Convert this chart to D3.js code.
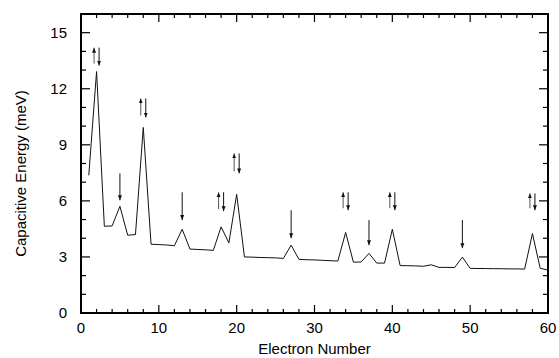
<!DOCTYPE html>
<html>
<head>
<meta charset="utf-8">
<script src="https://cdn.jsdelivr.net/npm/d3@7"></script>
<style>
  html, body { margin: 0; padding: 0; background: #fff; }
  svg { display: block; }
  text { font-family: "Liberation Sans", Arial, Helvetica, sans-serif; fill: #000; }
</style>
</head>
<body>
<svg id="chart" width="559" height="358"></svg>
<script>
// electron number N and capacitive energy (meV)
const electronNumber = d3.range(1, 61)
const energy = [
  7.37, 12.92, 4.64, 4.66, 5.71, 4.16, 4.2, 9.93, 3.68, 3.66,
  3.64, 3.6, 4.48, 3.42, 3.4, 3.38, 3.35, 4.61, 3.75, 6.35,
  3.0, 2.99, 2.97, 2.96, 2.95, 2.92, 3.63, 2.87, 2.85, 2.84,
  2.82, 2.8, 2.78, 4.31, 2.72, 2.73, 3.19, 2.67, 2.67, 4.48,
  2.54, 2.53, 2.52, 2.5, 2.58, 2.44, 2.44, 2.43, 2.99, 2.39,
  2.38, 2.38, 2.37, 2.37, 2.36, 2.36, 2.35, 4.25, 2.39, 2.3
]

// spin annotations: "pair" = up+down arrows, "down" = single down arrow
const arrowN = [2, 5, 8, 13, 18, 20, 27, 34, 37, 40, 49, 58]
const arrowKind = ['pair', 'down', 'pair', 'down', 'pair', 'pair', 'down', 'pair', 'down', 'pair', 'down', 'pair']
const arrowTop = [14.2, 7.47, 11.48, 6.46, 6.46, 8.54, 5.5, 6.46, 4.97, 6.46, 4.97, 6.4]
const arrowBottom = [13.24, 6.03, 10.46, 4.97, 5.45, 7.47, 4.0, 5.5, 3.63, 5.5, 3.47, 5.5]

const xTicks = [0, 10, 20, 30, 40, 50, 60]
const yTicks = [0, 3, 6, 9, 12, 15]

const margin = { top: 14, right: 11, bottom: 45, left: 81 }
const width = 559, height = 358
const svg = d3.select('#chart')

const x = d3.scaleLinear().domain([0, 60]).range([margin.left, width - margin.right])
const y = d3.scaleLinear().domain([0, 16]).range([height - margin.bottom, margin.top])

const data = electronNumber.map((n, i) => ({ n, e: energy[i] }))

// arrow head markers
const defs = svg.append('defs')
defs.append('marker')
  .attr('id', 'head')
  .attr('viewBox', '0 -5 10 10')
  .attr('refX', 10)
  .attr('refY', 0)
  .attr('markerWidth', 5)
  .attr('markerHeight', 5)
  .attr('markerUnits', 'userSpaceOnUse')
  .attr('orient', 'auto')
  .append('path')
  .attr('d', 'M0,-4L10,0L0,4Z')
  .attr('fill', '#111')

// ticks (inward on all four sides)
const axes = svg.append('g')
const minorX = d3.range(0, 61, 2)
const minorY = d3.range(0, 17, 1)

const x0 = margin.left, x1 = width - margin.right
const y0 = height - margin.bottom, y1 = margin.top

axes.selectAll('.xb').data(minorX).join('line')
  .attr('x1', d => x(d)).attr('x2', d => x(d))
  .attr('y1', y0).attr('y2', d => y0 - (d % 10 === 0 ? 8 : 4))
  .attr('stroke', '#000').attr('stroke-width', 1.2)
axes.selectAll('.xt').data(minorX).join('line')
  .attr('x1', d => x(d)).attr('x2', d => x(d))
  .attr('y1', y1).attr('y2', d => y1 + (d % 10 === 0 ? 8 : 4))
  .attr('stroke', '#000').attr('stroke-width', 1.2)
axes.selectAll('.yl').data(minorY).join('line')
  .attr('y1', d => y(d)).attr('y2', d => y(d))
  .attr('x1', x0).attr('x2', d => x0 + (d % 3 === 0 ? 9 : 5))
  .attr('stroke', '#000').attr('stroke-width', 1.2)
axes.selectAll('.yr').data(minorY).join('line')
  .attr('y1', d => y(d)).attr('y2', d => y(d))
  .attr('x1', x1).attr('x2', d => x1 - (d % 3 === 0 ? 9 : 5))
  .attr('stroke', '#000').attr('stroke-width', 1.2)

// frame
svg.append('rect')
  .attr('x', x0).attr('y', y1)
  .attr('width', x1 - x0).attr('height', y0 - y1)
  .attr('fill', 'none').attr('stroke', '#000').attr('stroke-width', 2)

// tick labels
svg.append('g').selectAll('text').data(xTicks).join('text')
  .attr('x', d => x(d)).attr('y', y0 + 20)
  .attr('text-anchor', 'middle')
  .style('font-size', '15px')
  .text(d => d)
svg.append('g').selectAll('text').data(yTicks).join('text')
  .attr('x', x0 - 14).attr('y', d => y(d) + 5)
  .attr('text-anchor', 'end')
  .style('font-size', '15px')
  .text(d => d)

// axis titles
svg.append('text')
  .attr('x', (x0 + x1) / 2).attr('y', height - 4)
  .attr('text-anchor', 'middle')
  .style('font-size', '15px')
  .text('Electron Number')
svg.append('text')
  .attr('transform', `translate(26,${(y0 + y1) / 2 + 10}) rotate(-90)`)
  .attr('text-anchor', 'middle')
  .style('font-size', '15px')
  .text('Capacitive Energy (meV)')

// data line
const line = d3.line().x(d => x(d.n)).y(d => y(d.e))
svg.append('path')
  .datum(data)
  .attr('d', line)
  .attr('fill', 'none')
  .attr('stroke', '#111')
  .attr('stroke-width', 1)

// spin arrows
const arrows = arrowN.map((n, i) => ({ n, kind: arrowKind[i], top: arrowTop[i], bottom: arrowBottom[i] }))
const ag = svg.append('g')
arrows.forEach(a => {
  if (a.kind === 'down') {
    ag.append('line')
      .attr('x1', x(a.n)).attr('x2', x(a.n))
      .attr('y1', y(a.top)).attr('y2', y(a.bottom))
      .attr('stroke', '#111').attr('stroke-width', 1)
      .attr('marker-end', 'url(#head)')
  } else {
    // up arrow on the left, down arrow on the right
    ag.append('line')
      .attr('x1', x(a.n) - 2.5).attr('x2', x(a.n) - 2.5)
      .attr('y1', y(a.bottom) - 2).attr('y2', y(a.top))
      .attr('stroke', '#555').attr('stroke-width', 1)
      .attr('marker-end', 'url(#head)')
    ag.append('line')
      .attr('x1', x(a.n) + 2.5).attr('x2', x(a.n) + 2.5)
      .attr('y1', y(a.top)).attr('y2', y(a.bottom))
      .attr('stroke', '#111').attr('stroke-width', 1)
      .attr('marker-end', 'url(#head)')
  }
})
</script>
</body>
</html>
